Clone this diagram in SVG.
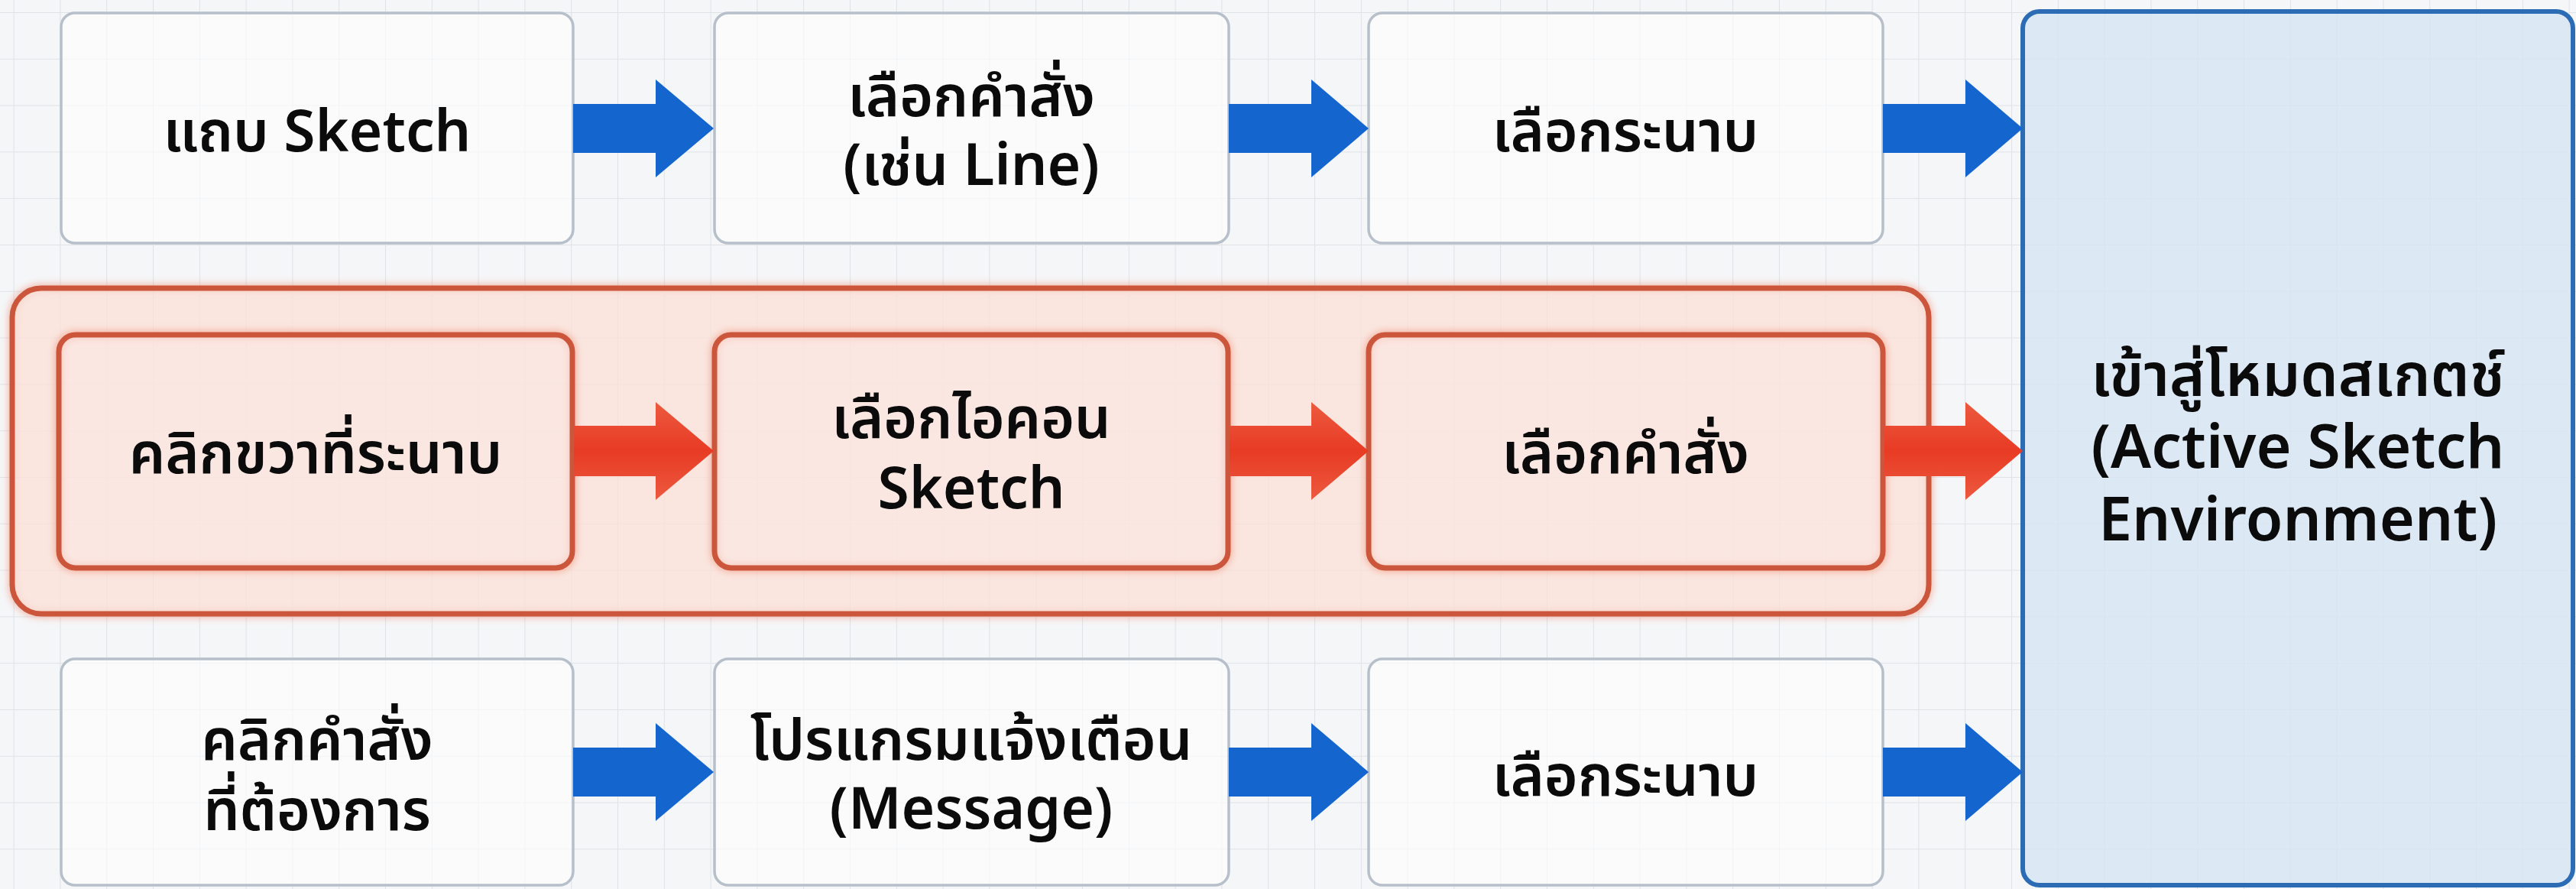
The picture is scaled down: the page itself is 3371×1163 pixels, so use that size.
<svg xmlns="http://www.w3.org/2000/svg" width="3371" height="1163" viewBox="0 0 3371 1163">
<defs>
<pattern id="grid" x="17.6" y="16" width="60.8" height="60.8" patternUnits="userSpaceOnUse">
<path d="M0 0 H60.8 M0 0 V60.8" fill="none" stroke="#dfe3e8" stroke-width="2.2"/>
</pattern>
<linearGradient id="redArrow" x1="0" y1="0" x2="0" y2="1">
<stop offset="0" stop-color="#ec5a3f"/>
<stop offset="0.5" stop-color="#e83b24"/>
<stop offset="1" stop-color="#ec5a3f"/>
</linearGradient>
<filter id="glow" x="-10%" y="-10%" width="120%" height="120%">
<feGaussianBlur stdDeviation="4"/>
</filter>
<style>
.txt{font-family:"Noto Sans","Noto Sans Thai","Noto Sans Thai UI","Loma","Garuda",sans-serif;font-size:75px;fill:#0b0b0b;text-anchor:middle;font-weight:600}
.big{font-size:79px}
.gbox{fill:#ffffff;fill-opacity:0.6;stroke:#b7c0ca;stroke-width:3.5}
.rbox{fill:#fbe8e3;fill-opacity:0.55;stroke:#cc563c;stroke-width:7}
.rglow{fill:none;stroke:#f08a70;stroke-width:12;opacity:0.5;filter:url(#glow)}
.blue{fill:#1565cf}
.red{fill:url(#redArrow)}
</style>
</defs>
<rect width="3371" height="1163" fill="#f5f6f8"/>
<rect width="3371" height="1163" fill="url(#grid)"/>

<g id="group-right-click">
<rect class="rglow" x="16" y="377" width="2508" height="426" rx="38"/>
<rect x="16" y="377" width="2508" height="426" rx="38" fill="#fbe0d7" fill-opacity="0.75" stroke="#cc563c" stroke-width="7"/>
</g>

<g id="node-env">
<rect x="2647" y="15" width="720" height="1143" rx="22" fill="#d7e5f2" fill-opacity="0.85" stroke="#2b6cb4" stroke-width="6"/>
<text class="txt big" x="3007" y="518">เข้าสู่โหมดสเกตช์</text>
<text class="txt big" x="3007" y="612">(Active Sketch</text>
<text class="txt big" x="3007" y="707">Environment)</text>
</g>

<g id="node-r1c1">
<rect class="gbox" x="80" y="17" width="670" height="301" rx="18"/>
<text class="txt" x="415" y="198">แถบ Sketch</text>
</g>
<g id="node-r1c2">
<rect class="gbox" x="935" y="17" width="673" height="301" rx="18"/>
<text class="txt" x="1271" y="152">เลือกคำสั่ง</text>
<text class="txt" x="1271" y="242">(เช่น Line)</text>
</g>
<g id="node-r1c3">
<rect class="gbox" x="1791" y="17" width="673" height="301" rx="18"/>
<text class="txt" x="2127" y="198">เลือกระนาบ</text>
</g>

<g id="node-r2c1">
<rect class="rglow" x="77" y="438" width="672" height="305" rx="22"/>
<rect class="rbox" x="77" y="438" width="672" height="305" rx="22"/>
<text class="txt" x="413" y="619">คลิกขวาที่ระนาบ</text>
</g>
<g id="node-r2c2">
<rect class="rglow" x="935" y="438" width="672" height="305" rx="22"/>
<rect class="rbox" x="935" y="438" width="672" height="305" rx="22"/>
<text class="txt" x="1271" y="573">เลือกไอคอน</text>
<text class="txt" x="1271" y="665">Sketch</text>
</g>
<g id="node-r2c3">
<rect class="rglow" x="1791" y="438" width="673" height="305" rx="22"/>
<rect class="rbox" x="1791" y="438" width="673" height="305" rx="22"/>
<text class="txt" x="2127" y="619">เลือกคำสั่ง</text>
</g>

<g id="node-r3c1">
<rect class="gbox" x="80" y="862" width="670" height="296" rx="18"/>
<text class="txt" x="415" y="994">คลิกคำสั่ง</text>
<text class="txt" x="415" y="1086">ที่ต้องการ</text>
</g>
<g id="node-r3c2">
<rect class="gbox" x="935" y="862" width="673" height="296" rx="18"/>
<text class="txt" x="1271" y="994">โปรแกรมแจ้งเตือน</text>
<text class="txt" x="1271" y="1084">(Message)</text>
</g>
<g id="node-r3c3">
<rect class="gbox" x="1791" y="862" width="673" height="296" rx="18"/>
<text class="txt" x="2127" y="1041">เลือกระนาบ</text>
</g>

<g id="connectors">
<polygon class="blue" points="750,136 858,136 858,104 934,168 858,232 858,200 750,200"/>
<polygon class="blue" points="1608,136 1716,136 1716,104 1791,168 1716,232 1716,200 1608,200"/>
<polygon class="blue" points="2464,136 2572,136 2572,104 2647,168 2572,232 2572,200 2464,200"/>
<polygon class="red" points="751,557 858,557 858,526 934,590 858,654 858,623 751,623"/>
<polygon class="red" points="1609,557 1716,557 1716,526 1791,590 1716,654 1716,623 1609,623"/>
<polygon class="red" points="2466,557 2572,557 2572,526 2647,590 2572,654 2572,623 2466,623"/>
<polygon class="blue" points="750,978 858,978 858,946 934,1010 858,1074 858,1042 750,1042"/>
<polygon class="blue" points="1608,978 1716,978 1716,946 1791,1010 1716,1074 1716,1042 1608,1042"/>
<polygon class="blue" points="2464,978 2572,978 2572,946 2647,1010 2572,1074 2572,1042 2464,1042"/>
</g>
</svg>
